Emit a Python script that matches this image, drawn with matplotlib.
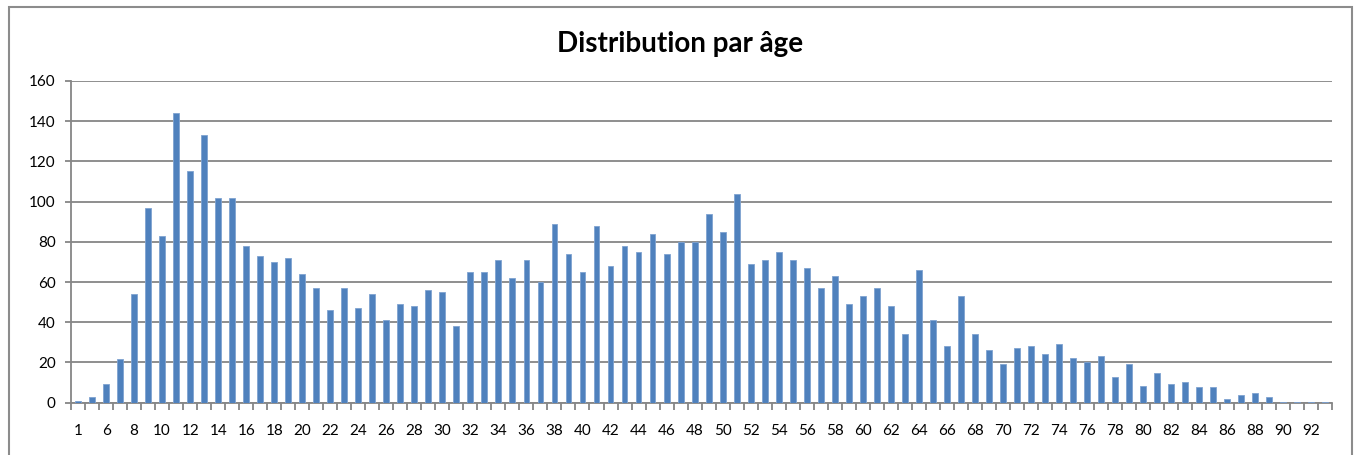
import matplotlib.pyplot as plt
from matplotlib.patches import Rectangle
from matplotlib.ticker import FixedLocator, NullFormatter

# ages (second class has no label on the axis)
ages = ['1', '5'] + [str(a) for a in range(6, 94)]
counts = [
    0.7, 2.7, 9.5, 21.7, 54, 97, 83, 144, 115, 133,          # 1, 5, 6..13
    102, 102, 78, 73, 70, 72, 64, 57, 46, 57,                # 14..23
    47, 54, 41, 49, 48, 56, 55, 38, 65, 65,                  # 24..33
    71, 62, 71, 60, 89, 74, 65, 88, 68, 78,                  # 34..43
    75, 84, 74, 80, 80, 94, 85, 104, 69, 71,                 # 44..53
    75, 71, 67, 57, 63, 49, 53, 57, 48, 34,                  # 54..63
    66, 41, 28, 53, 34, 26, 19, 27, 28, 24,                  # 64..73
    29, 22, 20, 23, 13, 19, 8.5, 15, 9.5, 10.5,              # 74..83
    8, 8, 1.7, 4, 5, 2.7, 0.5, 0.5, 0.5, 0.5,                # 84..93
]
y_ticks = [0, 20, 40, 60, 80, 100, 120, 140, 160]

plt.rcParams['font.family'] = ['Lato', 'DejaVu Sans']
GREY = '#868686'

fig = plt.figure(figsize=(13.56, 4.55), dpi=100)
ax = fig.add_axes([0.0524, 0.115, 0.930, 0.707])

x = list(range(len(ages)))
ax.bar(x, counts, width=0.42, color='#4F81BD', edgecolor='#7FA3D1', linewidth=0.6, zorder=3)

ax.set_xlim(-0.5, len(ages) - 0.5)
ax.set_ylim(0, 160)
ax.set_yticks(y_ticks)
ax.yaxis.grid(True, color=GREY, linewidth=1.3, zorder=0)
ax.tick_params(axis='y', length=4, width=1.3, color=GREY, direction='out',
               labelsize=11, pad=7, labelcolor='black')

# labels on every second class, tick marks on the class boundaries
lab_pos = x[0:len(ages) - 1:2]
ax.set_xticks(lab_pos)
ax.set_xticklabels([ages[i] if i != 1 else '' for i in lab_pos])
ax.tick_params(axis='x', which='major', length=0, labelsize=11, pad=15)
ax.xaxis.set_minor_locator(FixedLocator([i - 0.5 for i in range(len(ages) + 1)]))
ax.xaxis.set_minor_formatter(NullFormatter())
ax.tick_params(axis='x', which='minor', length=4.8, width=1.3, color=GREY, direction='out')

for side in ['top', 'right']:
    ax.spines[side].set_visible(False)
for side in ['left', 'bottom']:
    ax.spines[side].set_color(GREY)
    ax.spines[side].set_linewidth(1.3)

# title centred on the whole chart box rather than the plot area
ax.set_title('Distribution par âge', fontsize=20, fontweight='bold', pad=21, x=0.483)

# chart area border
fig.patches.append(Rectangle((9 / 1356, -0.05), 1343 / 1356, 0.05 + 448 / 455,
                             transform=fig.transFigure, fill=False,
                             edgecolor='#8c8c8c', linewidth=1.5))

fig.savefig('out.png', dpi=100)
